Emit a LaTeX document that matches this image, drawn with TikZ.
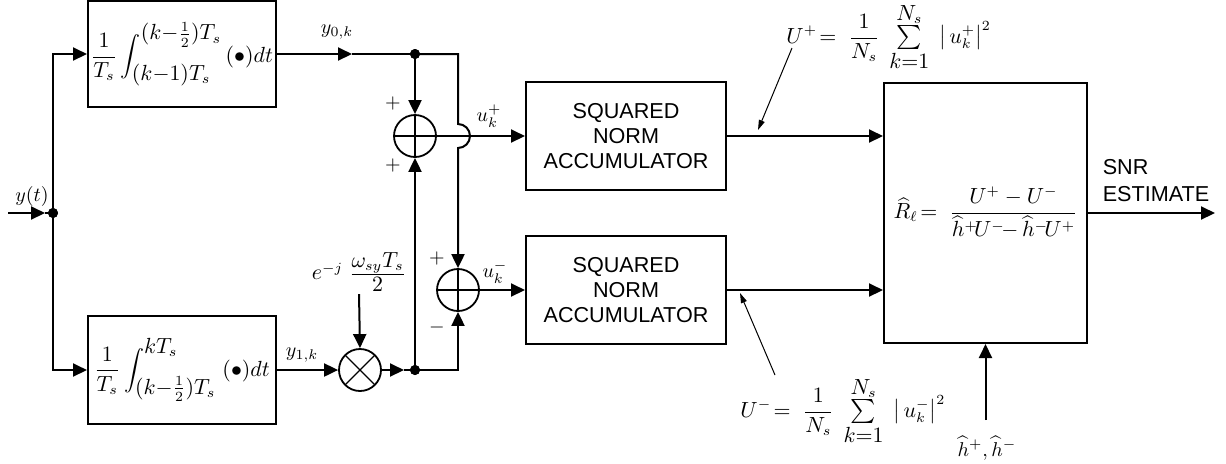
\documentclass[tikz,border=0pt]{standalone}
\usepackage{graphicx}
\usepackage{fontspec}
\newfontfamily\arialf{Liberation Sans}
\usetikzlibrary{arrows.meta,calc}
\newcommand{\bsum}{\mathop{\vcenter{\hbox{\scalebox{1.2}{$\textstyle\sum$}}}}\limits}
\begin{document}
\begin{tikzpicture}[x=0.5pt,y=0.5pt,
  wire/.style={line width=1pt},
  arr/.style={wire,-{Triangle[length=7pt,width=6.5pt]}},
  ann/.style={line width=0.5pt,-{Triangle[length=5pt,width=3pt]}},
  blk/.style={draw,line width=1pt,rectangle,inner sep=0pt},
  bigmath/.style={font=\fontsize{10.5}{12}\selectfont},
  midmath/.style={font=\fontsize{10.5}{12}\selectfont},
  sans/.style={font=\arialf\fontsize{10.8}{12.5}\selectfont,align=center},
  sumn/.style={circle,draw,line width=0.9pt,minimum size=21pt,inner sep=0pt,
    path picture={\draw[line width=0.6pt] (path picture bounding box.north)--(path picture bounding box.south)
      (path picture bounding box.west)--(path picture bounding box.east);}},
  muln/.style={circle,draw,line width=0.9pt,minimum size=21pt,inner sep=0pt,
    path picture={\draw[line width=0.6pt] (path picture bounding box.north east)--(path picture bounding box.south west)
      (path picture bounding box.north west)--(path picture bounding box.south east);}},
  dot/.style={circle,fill,inner sep=0pt,minimum size=5pt},
  lbl/.style={inner sep=0pt}]
\useasboundingbox (0,0) rectangle (1226,-463);

% nodes
\coordinate (in0) at (8,-213);
\coordinate (ina) at (45,-213);
\node[dot] (j0) at (53,-213) {};
\node[blk,bigmath,minimum width=94pt,minimum height=53pt] (box1) at (182,-54)
  {$\displaystyle\frac{1}{T_s}\int_{\textstyle(k{-}1)T_s}^{\textstyle(k{-}\frac{1}{2})T_s}\,(\bullet)dt$\hspace{3pt}};
\node[blk,bigmath,minimum width=94pt,minimum height=54pt] (box2) at (182,-370)
  {$\displaystyle\frac{1}{T_s}\int_{\textstyle(k{-}\frac{1}{2})T_s}^{\textstyle kT_s}\;(\bullet)dt$\hspace{3pt}};
\node[sumn] (sum1) at (415,-136) {};
\node[sumn] (sum2) at (458,-290) {};
\node[muln] (mul) at (360,-370) {};
\node[dot] (j1) at (415,-54) {};
\node[dot] (j2) at (415,-370) {};
\node[blk,sans,minimum width=100pt,minimum height=54pt] (sna1) at (626,-136) {SQUARED\\NORM\\ACCUMULATOR};
\node[blk,sans,minimum width=100pt,minimum height=54pt] (sna2) at (626,-290) {SQUARED\\NORM\\ACCUMULATOR};
\node[blk,midmath,minimum width=101.5pt,minimum height=130pt] (big) at (985.5,-213)
  {$\displaystyle\widehat{R}_\ell\!=\;\frac{U^+-U^-}{\widehat{h}^{+}\!U^{-}\!{-}\,\widehat{h}^{-}\!U^{+}}$\hspace{7pt}};
\coordinate (out) at (1215,-213);
\coordinate (hin) at (985.5,-420);
\coordinate (ya) at (352,-54);
\coordinate (ma) at (404,-370);

% labels
\node[lbl] (lyt) at (32,-196) {$y(t)$};
\node[lbl] (ly0) at (337,-32) {$y_{0,k}$};
\node[lbl] (ly1) at (302,-355) {$y_{1,k}$};
\node[lbl] (p1) at (393,-103) {$+$};
\node[lbl] (p2) at (393,-165) {$+$};
\node[lbl] (p3) at (437,-258) {$+$};
\node[lbl] (m3) at (437,-327) {$-$};
\node[lbl] (lup) at (489,-116) {$u_k^+$};
\node[lbl] (lum) at (495,-272) {$u_k^-$};
\node[inner sep=1pt,bigmath] (expl) at (359,-272)
  {$e^{-j}\;\frac{\textstyle\omega_{sy}T_s\rule[-2.5pt]{0pt}{3pt}}{\textstyle 2\rule{0pt}{8pt}}$};
\node[sans,align=left,font=\arialf\fontsize{10.8}{13.5}\selectfont] (snr) at (1156,-181) {SNR\\ESTIMATE};
\node[lbl,midmath,anchor=west] (Up) at (786,-37)
  {$\displaystyle U^{+}\!=\;\frac{1}{N_s}\;\bsum_{\textstyle k{=}1}^{\textstyle N_s}\;\left|\,u_k^{+}\right|^2$};
\node[lbl,midmath,anchor=west] (Um) at (740,-411)
  {$\displaystyle U^{-}\!=\;\frac{1}{N_s}\;\bsum_{\textstyle k{=}1}^{\textstyle N_s}\;\left|\,u_k^{-}\right|^2$};
\node[lbl,anchor=north] (hl) at (987,-436) {$\widehat{h}^{+},\widehat{h}^{-}$};

% connectors
\draw[arr] (in0) -- (ina);
\draw[wire] (ina) -- (j0.center);
\draw[arr] (j0.center) |- (box1.west);
\draw[arr] (j0.center) |- (box2.west);
\draw[arr] (box1.east) -- (ya);
\draw[wire] (ya) -- (j1.center);
\draw[arr] (j1.center) -- (sum1.north);
\draw[arr] (j1.center) -- (j1 -| sum2) -- ($(sum1.east -| sum2)+(0,12)$)
  arc[start angle=90,end angle=-90,radius=6pt] -- (sum2.north);
\draw[arr] (sum1.east) -- (sna1.west);
\draw[arr] (box2.east) -- (mul.west);
\draw[arr] (mul.east) -- (ma);
\draw[wire] (ma) -- (j2.center);
\draw[arr] (j2.center) -- (sum1.south);
\draw[arr] (j2.center) -| (sum2.south);
\draw[arr] (sum2.east) -- (sna2.west);
\draw[arr] (expl.south) -- (mul.north);
\draw[arr] (sna1.east) -- (sna1.east -| big.west);
\draw[arr] (sna2.east) -- (sna2.east -| big.west);
\draw[arr] (big.east) -- (out);
\draw[arr] (hin) -- (big.south);
\coordinate (uptail) at (792,-48);
\coordinate (uptip) at (758,-130);
\coordinate (umtail) at (775,-375);
\coordinate (umtip) at (740,-293);
\draw[ann] (uptail) -- (uptip);
\draw[ann] (umtail) -- (umtip);
\node[dot] at (j0) {};
\node[dot] at (j1) {};
\node[dot] at (j2) {};
\end{tikzpicture}
\end{document}
